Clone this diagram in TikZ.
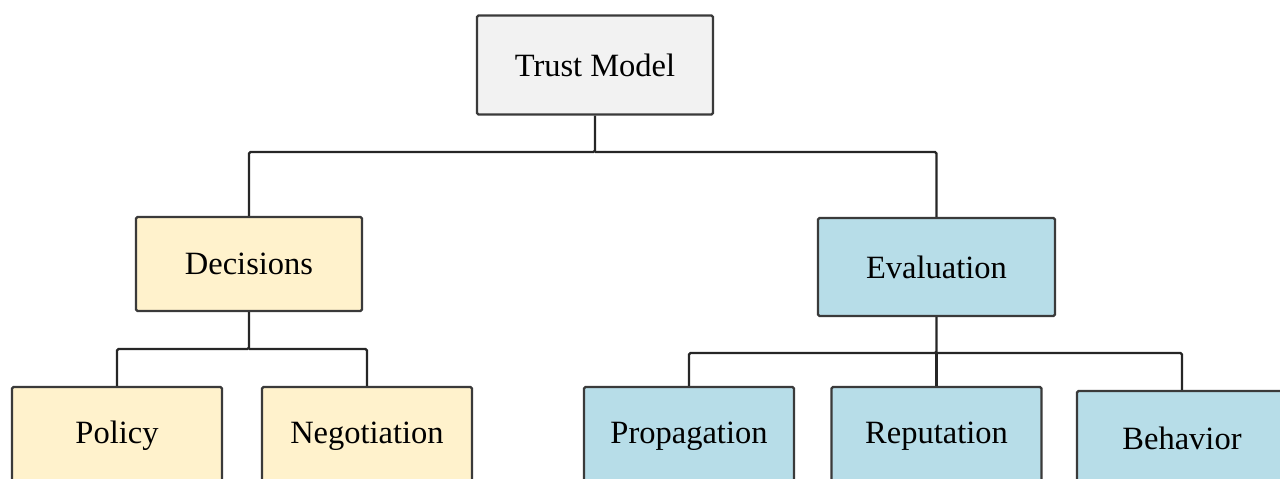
\documentclass[tikz,border=0pt]{standalone}
\usepackage{fontspec}
\setmainfont{Liberation Serif}
\definecolor{topfill}{HTML}{F2F2F2}
\definecolor{decfill}{HTML}{FFF2CC}
\definecolor{evafill}{HTML}{B7DDE8}
\definecolor{boxline}{HTML}{3A3A3A}
\definecolor{conline}{HTML}{262626}
\begin{document}
\begin{tikzpicture}[x=1pt,y=-1pt,
  treebox/.style={draw=boxline,line width=2.4pt,rounded corners=1.5pt,inner sep=0pt,
    font=\fontsize{32.5}{38}\selectfont,text=black},
  graybox/.style={treebox,fill=topfill},
  yelbox/.style={treebox,fill=decfill},
  bluebox/.style={treebox,fill=evafill},
  conn/.style={draw=conline,line width=2.3pt,rounded corners=1.5pt}]
\useasboundingbox (0,0) rectangle (1280,479);
\clip (0,0) rectangle (1280,479);
% nodes
\node[graybox,minimum width=236pt,minimum height=99pt] (T) at (595,65) {Trust Model};
\node[yelbox,minimum width=226pt,minimum height=94pt] (D) at (249,264) {Decisions};
\node[bluebox,minimum width=237pt,minimum height=98pt] (E) at (936.5,267) {Evaluation};
\node[yelbox,minimum width=210pt,minimum height=98pt] (P) at (117,436) {Policy};
\node[yelbox,minimum width=210pt,minimum height=98pt] (N) at (367,436) {Negotiation};
\node[bluebox,minimum width=210pt,minimum height=98pt] (G) at (689,436) {Propagation};
\node[bluebox,minimum width=210pt,minimum height=98pt] (R) at (936.5,436) {Reputation};
\node[bluebox,minimum width=210pt,minimum height=94pt] (B) at (1182,438) {Behavior};
% junctions
\coordinate (j1) at (595,152);
\coordinate (j2) at (249,349);
\coordinate (j3) at (936.5,353);
% connectors
\draw[conn] (T.south) -- (j1) -| (D.north);
\draw[conn] (j1) -| (E.north);
\draw[conn] (D.south) -- (j2) -| (P.north);
\draw[conn] (j2) -| (N.north);
\draw[conn] (E.south) -- (j3) -| (G.north);
\draw[conn] (j3) -- (R.north);
\draw[conn] (j3) -| (B.north);
\end{tikzpicture}
\end{document}
